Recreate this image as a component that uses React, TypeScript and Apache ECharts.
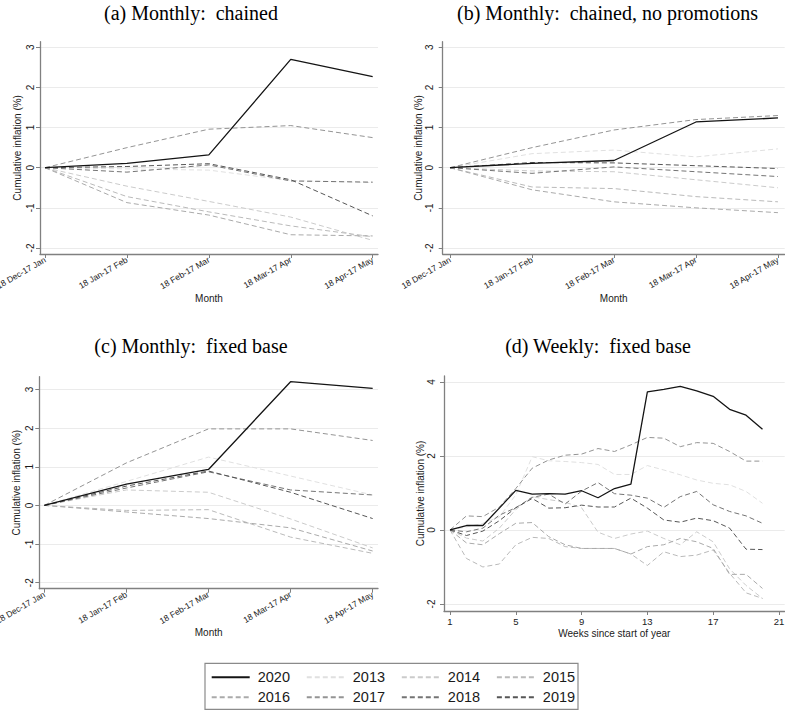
import React, { useEffect, useRef } from 'react';
import * as echarts from 'echarts';

// ---------- data ----------
const monthLabels = ['18 Dec-17 Jan', '18 Jan-17 Feb', '18 Feb-17 Mar', '18 Mar-17 Apr', '18 Apr-17 May'];
const monthIndex = [0, 1, 2, 3, 4];
const weekNumbers = [1, 2, 3, 4, 5, 6, 7, 8, 9, 10, 11, 12, 13, 14, 15, 16, 17, 18, 19, 20];
const weekTicks = [1, 5, 9, 13, 17, 21];
const monthlyYTicks = [-2, -1, 0, 1, 2, 3];
const weeklyYTicks = [-2, 0, 2, 4];
const legendRow1 = ['2020', '2013', '2014', '2015'];
const legendRow2 = ['2016', '2017', '2018', '2019'];
const drawOrder = ['2013', '2014', '2015', '2016', '2017', '2018', '2019', '2020'];
const panelTitles = ['(a) Monthly:  chained', '(b) Monthly:  chained, no promotions', '(c) Monthly:  fixed base', '(d) Weekly:  fixed base'];

// (a) Monthly: chained
const chained: Record<string, number[]> = {
  '2020': [0, 0.11, 0.32, 2.70, 2.27],
  '2013': [0, -0.03, -0.06, -0.32, -0.37],
  '2014': [0, -0.46, -0.84, -1.23, -1.81],
  '2015': [0, -0.72, -1.10, -1.45, -1.72],
  '2016': [0, -0.87, -1.18, -1.67, -1.70],
  '2017': [0, 0.50, 0.96, 1.05, 0.75],
  '2018': [0, -0.11, 0.07, -0.33, -0.36],
  '2019': [0, 0.03, 0.10, -0.30, -1.20],
};

// (b) Monthly: chained, no promotions
const chainedNoPromo: Record<string, number[]> = {
  '2020': [0, 0.11, 0.18, 1.14, 1.24],
  '2013': [0, 0.35, 0.44, 0.27, 0.47],
  '2014': [0, -0.08, -0.10, -0.30, -0.50],
  '2015': [0, -0.48, -0.52, -0.72, -0.85],
  '2016': [0, -0.55, -0.85, -1.00, -1.12],
  '2017': [0, 0.50, 0.94, 1.20, 1.30],
  '2018': [0, -0.14, 0.02, -0.10, -0.22],
  '2019': [0, 0.13, 0.12, 0.05, -0.02],
};

// (c) Monthly: fixed base
const fixedBase: Record<string, number[]> = {
  '2020': [0, 0.55, 0.93, 3.20, 3.03],
  '2013': [0, 0.62, 1.25, 0.76, 0.27],
  '2014': [0, 0.40, 0.34, -0.35, -1.10],
  '2015': [0, -0.13, -0.11, -0.82, -1.24],
  '2016': [0, -0.17, -0.34, -0.58, -1.18],
  '2017': [0, 1.10, 1.98, 1.98, 1.68],
  '2018': [0, 0.45, 0.87, 0.40, 0.27],
  '2019': [0, 0.50, 0.89, 0.34, -0.34],
};

// (d) Weekly: fixed base
const weeklyFixed: Record<string, number[]> = {
  '2020': [0, 0.12, 0.12, 0.59, 1.07, 0.97, 0.98, 0.97, 1.06, 0.87, 1.12, 1.24, 3.73, 3.80, 3.88, 3.76, 3.61, 3.26, 3.10, 2.72],
  '2013': [0, 0.08, 0.18, 0.35, 0.95, 1.98, 1.87, 1.85, 1.82, 1.77, 1.50, 1.50, 1.74, 1.62, 1.49, 1.35, 1.26, 1.22, 1.04, 0.72],
  '2014': [0, -0.22, -0.30, 0.05, 0.55, 0.90, 0.82, 0.75, 0.60, -0.06, -0.23, -0.11, -0.03, -0.23, -0.40, -0.05, -0.32, -1.05, -1.50, -1.85],
  '2015': [0, -0.77, -1.00, -0.92, -0.40, -0.20, -0.23, -0.45, -0.50, -0.50, -0.50, -0.65, -0.96, -0.59, -0.72, -0.68, -0.54, -1.17, -1.70, -1.85],
  '2016': [0, -0.35, -0.40, -0.10, 0.18, 0.20, -0.18, -0.40, -0.50, -0.50, -0.50, -0.65, -0.45, -0.40, -0.23, -0.32, -0.50, -1.20, -1.20, -1.58],
  '2017': [0, 0.38, 0.36, 0.62, 1.12, 1.67, 1.89, 2.02, 2.05, 2.20, 2.12, 2.30, 2.50, 2.48, 2.25, 2.36, 2.34, 2.12, 1.86, 1.86],
  '2018': [0, -0.05, 0.05, 0.40, 0.60, 0.88, 0.97, 0.70, 1.05, 1.28, 0.98, 0.94, 0.86, 0.61, 0.90, 1.04, 0.68, 0.50, 0.38, 0.18],
  '2019': [0, -0.15, -0.03, 0.25, 0.60, 0.85, 0.59, 0.60, 0.67, 0.62, 0.62, 0.86, 0.59, 0.27, 0.21, 0.32, 0.25, 0.05, -0.52, -0.53],
};

// ---------- styles ----------
const yearStyle: Record<string, { color: string; dashed: boolean; width: number }> = {
  '2020': { color: '#141414', dashed: false, width: 1.3 },
  '2013': { color: '#e0e0e0', dashed: true, width: 1 },
  '2014': { color: '#cbcbcb', dashed: true, width: 1 },
  '2015': { color: '#bababa', dashed: true, width: 1 },
  '2016': { color: '#aaaaaa', dashed: true, width: 1 },
  '2017': { color: '#949494', dashed: true, width: 1 },
  '2018': { color: '#747474', dashed: true, width: 1 },
  '2019': { color: '#565656', dashed: true, width: 1 },
};

const SANS = '"Liberation Sans", Arial, sans-serif';
const SERIF = '"Liberation Serif", "Times New Roman", serif';
const TEXT = '#1a1a1a';
const AXIS = '#808080';
const GRIDLINE = '#ebebeb';

type Panel = {
  data: Record<string, number[]>;
  weekly: boolean;
  grid: { left: number; top: number; width: number; height: number };
  x: [number, number];
  y: [number, number];
  yNameGap: number;
  yLabelMargin: number;
  title: [number, number];
};

const panels: Panel[] = [
  { data: chained, weekly: false, grid: { left: 40, top: 41.7, width: 338, height: 212.3 }, x: [-0.061, 4.065], y: [-2.15, 3.14], yNameGap: 18, yLabelMargin: 5, title: [191, 13] },
  { data: chainedNoPromo, weekly: false, grid: { left: 442.7, top: 41.7, width: 342, height: 212.3 }, x: [-0.089, 4.082], y: [-2.15, 3.14], yNameGap: 15, yLabelMargin: 8, title: [607.5, 13] },
  { data: fixedBase, weekly: false, grid: { left: 39.3, top: 376.7, width: 338.7, height: 212 }, x: [-0.061, 4.065], y: [-2.155, 3.33], yNameGap: 18, yLabelMargin: 5, title: [191, 346] },
  { data: weeklyFixed, weekly: true, grid: { left: 444, top: 376, width: 340.7, height: 235 }, x: [0.635, 21.35], y: [-2.19, 4.16], yNameGap: 15, yLabelMargin: 8, title: [598, 346] },
];

function buildOption() {
  const grid: any[] = [];
  const xAxis: any[] = [];
  const yAxis: any[] = [];
  const series: any[] = [];
  const graphic: any[] = [];

  panels.forEach((p, i) => {
    grid.push({ ...p.grid, containLabel: false, outerBoundsMode: 'none' });
    const xTicks = p.weekly ? weekTicks : monthIndex;
    xAxis.push({
      type: 'value',
      gridIndex: i,
      min: p.x[0],
      max: p.x[1],
      axisLine: { show: true, onZero: false, lineStyle: { color: AXIS, width: 1.3 } },
      axisTick: { show: true, length: 4, customValues: xTicks, lineStyle: { color: AXIS, width: 1 } },
      axisLabel: {
        customValues: xTicks,
        rotate: p.weekly ? 0 : 30,
        fontSize: p.weekly ? 9.5 : 8.5,
        margin: 5,
        color: TEXT,
        fontFamily: SANS,
        formatter: (v: number) => (p.weekly ? String(v) : monthLabels[Math.round(v)]),
      },
      splitLine: { show: false },
      name: p.weekly ? 'Weeks since start of year' : 'Month',
      nameLocation: 'middle',
      nameGap: p.weekly ? 17 : 37,
      nameTextStyle: { fontSize: 10, color: TEXT, fontFamily: SANS },
    });
    const yTicks = p.weekly ? weeklyYTicks : monthlyYTicks;
    yAxis.push({
      type: 'value',
      gridIndex: i,
      min: p.y[0],
      max: p.y[1],
      axisLine: { show: true, onZero: false, lineStyle: { color: AXIS, width: 1.3 } },
      axisTick: { show: true, length: 4, customValues: yTicks, lineStyle: { color: AXIS, width: 1 } },
      axisLabel: { customValues: yTicks, rotate: 90, fontSize: 10, margin: p.yLabelMargin, color: TEXT, fontFamily: SANS },
      splitLine: { show: true, lineStyle: { color: GRIDLINE, width: 1 } },
      name: 'Cumulative inflation (%)',
      nameLocation: 'middle',
      nameGap: p.yNameGap,
      nameTextStyle: { fontSize: 10, color: TEXT, fontFamily: SANS },
    });
    const xs = p.weekly ? weekNumbers : monthIndex;
    drawOrder.forEach((yr) => {
      const st = yearStyle[yr];
      series.push({
        type: 'line',
        name: yr,
        xAxisIndex: i,
        yAxisIndex: i,
        data: p.data[yr].map((v, k) => [xs[k], v]),
        symbol: 'none',
        silent: true,
        z: yr === '2020' ? 3 : 2,
        lineStyle: { color: st.color, width: st.width, type: st.dashed ? [5, 3] : 'solid' },
        itemStyle: { color: st.color },
      });
    });
    graphic.push({
      type: 'text',
      x: p.title[0],
      y: p.title[1],
      style: {
        text: panelTitles[i],
        fontSize: 20,
        fontFamily: SERIF,
        fill: '#000',
        textAlign: 'center',
        align: 'center',
        textVerticalAlign: 'middle',
        verticalAlign: 'middle',
      },
    });
  });

  graphic.push({
    type: 'rect',
    shape: { x: 205, y: 663.3, width: 373, height: 46 },
    style: { fill: 'none', stroke: '#8a8a8a', lineWidth: 1.2 },
    silent: true,
  });

  const legendBase = {
    orient: 'horizontal',
    left: 210.7,
    itemWidth: 38,
    itemHeight: 14,
    itemGap: 15.8,
    padding: 0,
    selectedMode: false,
    itemStyle: { opacity: 0, color: 'rgba(0,0,0,0)', borderWidth: 0 },
    textStyle: { fontSize: 14.5, fontFamily: SANS, color: TEXT, padding: [0, 0, 0, 3] },
  };

  return {
    animation: false,
    backgroundColor: '#ffffff',
    grid,
    xAxis,
    yAxis,
    series,
    graphic,
    legend: [
      { ...legendBase, data: legendRow1, top: 669.7 },
      { ...legendBase, data: legendRow2, top: 689.7 },
    ],
  };
}

export default function App() {
  const ref = useRef<HTMLDivElement>(null);
  useEffect(() => {
    if (!ref.current) return;
    const chart = echarts.init(ref.current, undefined, { renderer: 'svg' });
    chart.setOption(buildOption() as any);
    return () => chart.dispose();
  }, []);
  return (
    <div
      ref={ref}
      style={{ position: 'fixed', left: 0, top: 0, width: 785, height: 710, background: '#fff' }}
    />
  );
}
